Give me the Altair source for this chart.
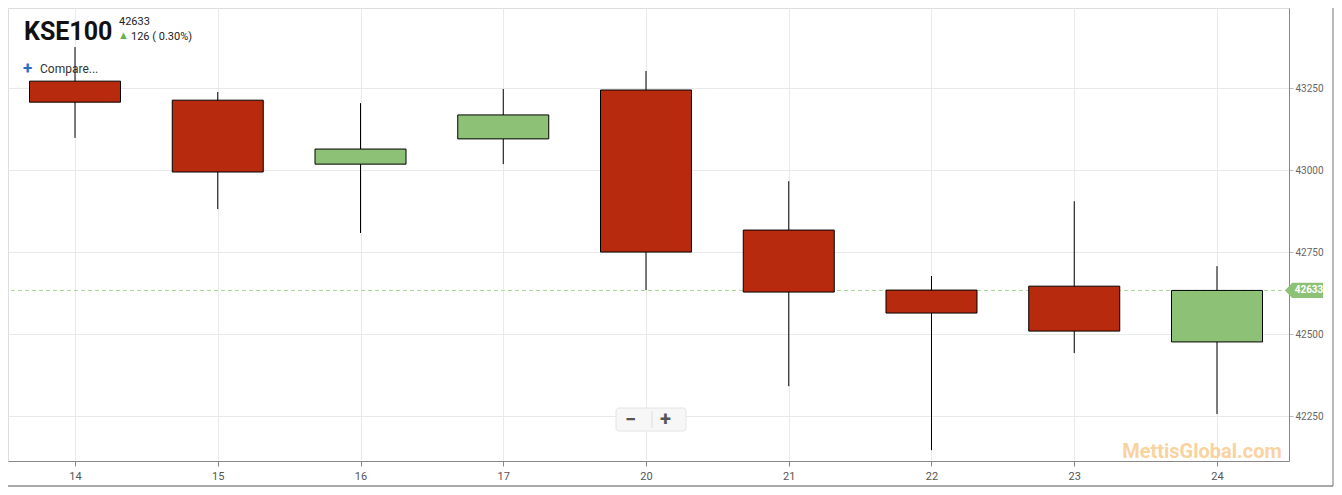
import altair as alt
import pandas as pd

days = ["14", "15", "16", "17", "20", "21", "22", "23", "24"]
opens = [43271, 43213, 43018, 43095, 43244, 42817, 42634, 42646, 42476]
closes = [43207, 42994, 43064, 43168, 42750, 42628, 42564, 42509, 42633]
highs = [43375, 43238, 43204, 43247, 43302, 42966, 42677, 42905, 42707]
lows = [43098, 42881, 42808, 43018, 42634, 42341, 42146, 42442, 42256]
y_ticks = [42250, 42500, 42750, 43000, 43250]
last_price = 42633

df = pd.DataFrame({
    "i": list(range(len(days))),
    "day": days,
    "open": opens,
    "close": closes,
    "high": highs,
    "low": lows,
})
df["dir"] = ["up" if c >= o else "down" for o, c in zip(opens, closes)]

label_expr = "[" + ",".join("'%s'" % d for d in days) + "][datum.value]"

x = alt.X("i:Q",
          scale=alt.Scale(domain=[-0.4694, 8.5044], nice=False, zero=False, padding=0),
          axis=alt.Axis(values=list(range(len(days))), labelExpr=label_expr, title=None,
                        grid=True, gridColor="#e9e9e9", domainColor="#888888",
                        tickColor="#888888", tickSize=5, labelColor="#555555",
                        labelFontSize=11, labelFont="Roboto", labelPadding=4))
yscale = alt.Scale(domain=[42113, 43494], nice=False, zero=False, padding=0)

wick = alt.Chart(df).mark_rule(color="black", strokeWidth=1).encode(
    x=x,
    y=alt.Y("low:Q", scale=yscale,
            axis=alt.Axis(orient="right", values=y_ticks, format="d", title=None, grid=True,
                          gridColor="#e9e9e9", domainColor="#888888", tickColor="#bbbbbb",
                          tickSize=4, labelColor="#666666", labelFontSize=10,
                          labelFont="Roboto", labelPadding=2)),
    y2="high:Q",
)

body = alt.Chart(df).mark_bar(size=91, stroke="black", strokeWidth=1).encode(
    x=x,
    y=alt.Y("open:Q", scale=yscale),
    y2="close:Q",
    color=alt.Color("dir:N", scale=alt.Scale(domain=["up", "down"], range=["#8dc276", "#b82a0d"]),
                    legend=None),
)

price_df = pd.DataFrame({"p": [last_price], "t": [str(last_price)]})
price_line = alt.Chart(price_df).mark_rule(color="#a9d596", strokeDash=[4, 3], strokeWidth=1).encode(
    y=alt.Y("p:Q", scale=yscale)
)
flag = alt.Chart(price_df).mark_point(
    shape="M -1 0 L -0.62 -0.4 L 1 -0.4 L 1 0.4 L -0.62 0.4 Z",
    filled=True, opacity=1, color="#8dc276", size=1444, strokeWidth=0
).encode(x=alt.value(1296), y=alt.Y("p:Q", scale=yscale))
flag_text = alt.Chart(price_df).mark_text(
    color="white", fontSize=10, fontWeight="bold", font="Roboto", align="center", baseline="middle", dx=3
).encode(x=alt.value(1298), y=alt.Y("p:Q", scale=yscale), text="t:N")

def txt(text, xv, yv, **kw):
    return alt.Chart(pd.DataFrame({"t": [text]})).mark_text(align="left", baseline="alphabetic", font="Roboto", **kw).encode(
        x=alt.value(xv), y=alt.value(yv), text="t:N")

title = txt("KSE100", 16, 32, fontSize=25, fontWeight="bold", color="#111111")
price = txt(str(last_price), 111, 17, fontSize=11, color="#222222")
arrow = txt("▲", 110, 31, fontSize=11, color="#6ab04c")
change = txt("126 ( 0.30%)", 123, 32, fontSize=11, color="#222222")
plus = txt("+", 15, 66, fontSize=17, fontWeight="bold", color="#2b6cc4")
compare = txt("Compare...", 32, 65, fontSize=12, color="#333333")

btn_box = alt.Chart(pd.DataFrame({"a": [0]})).mark_rect(
    fill="#f7f7f7", stroke="#e4e4e4", cornerRadius=3
).encode(x=alt.value(608), x2=alt.value(678), y=alt.value(400), y2=alt.value(423))
btn_sep = alt.Chart(pd.DataFrame({"a": [0]})).mark_rule(color="#dddddd").encode(
    x=alt.value(644), y=alt.value(403), y2=alt.value(420))
minus_t = txt("−", 617, 418, fontSize=20, fontWeight="bold", color="#555555")
plus_t = txt("+", 652, 418, fontSize=20, fontWeight="bold", color="#555555")

watermark = alt.Chart(pd.DataFrame({"t": ["MettisGlobal.com"]})).mark_text(
    align="center", baseline="alphabetic", font="Roboto", fontSize=20, fontWeight="bold",
    color="#f9cc8f", opacity=0.85
).encode(x=alt.value(1194), y=alt.value(450), text="t:N")

frame_r = alt.Chart(pd.DataFrame({"a": [0]})).mark_rule(color="#777777").encode(
    x=alt.value(1325), y=alt.value(-10), y2=alt.value(478))
frame_b = alt.Chart(pd.DataFrame({"a": [0]})).mark_rule(color="#555555").encode(
    x=alt.value(0), x2=alt.value(1325), y=alt.value(478))

chart = alt.layer(
    price_line, wick, body, flag, flag_text, title, price, arrow, change, plus, compare,
    btn_box, btn_sep, minus_t, plus_t, watermark, frame_r, frame_b
).properties(
    width=1281, height=453,
    padding={"left": 0, "top": 0, "right": 45, "bottom": 26},
    autosize=alt.AutoSizeParams(type="none"),
).configure_view(stroke=None).configure(background="white")

chart.save("out.html", embed_options={"renderer": "svg", "actions": False})
